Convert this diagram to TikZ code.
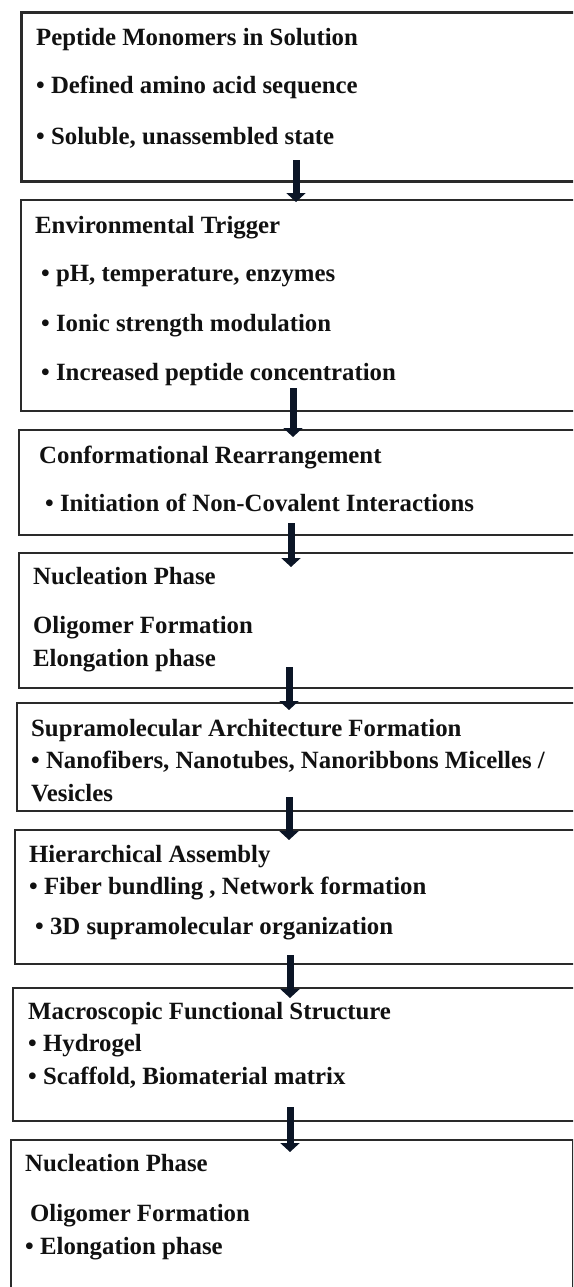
\documentclass[tikz,border=0pt]{standalone}
\usepackage{fontspec}
\setmainfont{Liberation Serif}
\usetikzlibrary{arrows.meta}
\definecolor{boxline}{HTML}{2A2A2A}
\definecolor{arrowcol}{HTML}{0B1526}
\definecolor{txt}{HTML}{111111}
\tikzset{
  stagebox/.style={draw=boxline, line width=1.8pt, anchor=north west, inner sep=0pt, fill=none},
  lbl/.style={anchor=base west, inner sep=0pt, text=txt, font=\bfseries\fontsize{24.8}{29}\selectfont},
  flow/.style={draw=arrowcol, line width=7pt, -{Triangle[width=19pt,length=9pt]}}
}
\begin{document}
\begin{tikzpicture}[x=1pt,y=-1pt]
\useasboundingbox (0,0) rectangle (573,1287);
\fill[white] (0,0) rectangle (573,1287);
\clip (0,0) rectangle (573,1287);
% boxes
\node[stagebox, line width=2.6pt, minimum width=600pt, minimum height=169pt] (b1) at (20,11) {};
\node[stagebox, minimum width=600pt, minimum height=211pt] (b2) at (20,199) {};
\node[stagebox, minimum width=600pt, minimum height=105pt] (b3) at (18,429) {};
\node[stagebox, minimum width=600pt, minimum height=135pt] (b4) at (18,552) {};
\node[stagebox, minimum width=600pt, minimum height=108pt] (b5) at (16,702) {};
\node[stagebox, minimum width=600pt, minimum height=134pt] (b6) at (14,829) {};
\node[stagebox, minimum width=600pt, minimum height=133pt] (b7) at (12,987) {};
\node[stagebox, minimum width=562pt, minimum height=170pt] (b8) at (10,1139) {};
% texts
\node[lbl] (t11) at (36,46) {Peptide Monomers in Solution};
\node[lbl] (t12) at (36,94) {• Defined amino acid sequence};
\node[lbl] (t13) at (36,144) {• Soluble, unassembled state};
\node[lbl] (t21) at (35,233) {Environmental Trigger};
\node[lbl] (t22) at (41,281) {• pH, temperature, enzymes};
\node[lbl] (t23) at (41,331) {• Ionic strength modulation};
\node[lbl] (t24) at (41,380) {• Increased peptide concentration};
\node[lbl] (t31) at (39,463) {Conformational Rearrangement};
\node[lbl] (t32) at (45,511) {• Initiation of Non-Covalent Interactions};
\node[lbl] (t41) at (33,584) {Nucleation Phase};
\node[lbl] (t42) at (33,633) {Oligomer Formation};
\node[lbl] (t43) at (33,666) {Elongation phase};
\node[lbl] (t51) at (31,736) {Supramolecular Architecture Formation};
\node[lbl] (t52) at (31,768) {• Nanofibers, Nanotubes, Nanoribbons Micelles /};
\node[lbl] (t53) at (31,801) {Vesicles};
\node[lbl] (t61) at (29,862) {Hierarchical Assembly};
\node[lbl] (t62) at (29,894) {• Fiber bundling , Network formation};
\node[lbl] (t63) at (35,934) {• 3D supramolecular organization};
\node[lbl] (t71) at (28,1019) {Macroscopic Functional Structure};
\node[lbl] (t72) at (28,1051) {• Hydrogel};
\node[lbl] (t73) at (28,1084) {• Scaffold, Biomaterial matrix};
\node[lbl] (t81) at (25,1171) {Nucleation Phase};
\node[lbl] (t82) at (30,1221) {Oligomer Formation};
\node[lbl] (t83) at (25,1254) {• Elongation phase};
% arrow end points
\coordinate (a1s) at (296,160);  \coordinate (a1e) at (296,202);
\coordinate (a2s) at (293,388);  \coordinate (a2e) at (293,437);
\coordinate (a3s) at (291,523);  \coordinate (a3e) at (291,567);
\coordinate (a4s) at (289,667);  \coordinate (a4e) at (289,710);
\coordinate (a5s) at (289,797);  \coordinate (a5e) at (289,840);
\coordinate (a6s) at (290,955);  \coordinate (a6e) at (290,998);
\coordinate (a7s) at (290,1107); \coordinate (a7e) at (290,1152);
\foreach \i in {1,...,7}{\draw[flow] (a\i s) -- (a\i e);}
\end{tikzpicture}
\end{document}
